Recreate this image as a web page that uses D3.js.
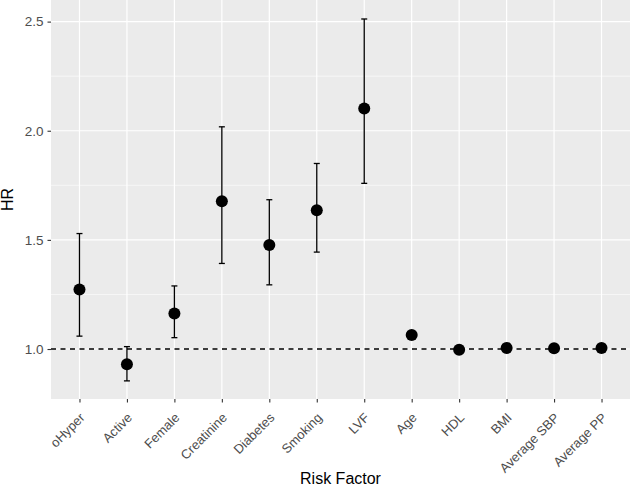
<!DOCTYPE html>
<html>
<head>
<meta charset="utf-8">
<script src="https://cdn.jsdelivr.net/npm/d3@7"></script>
<style>
  html, body { margin: 0; padding: 0; background: #fff; }
  svg { display: block; }
</style>
</head>
<body>
<svg id="chart" width="630" height="488"></svg>
<script>
const categories = ["oHyper", "Active", "Female", "Creatinine", "Diabetes", "Smoking", "LVF", "Age", "HDL", "BMI", "Average SBP", "Average PP"];
const hrValues   = [1.273, 0.930, 1.163, 1.677, 1.477, 1.636, 2.102, 1.064, 0.997, 1.005, 1.003, 1.005];
const lowerCI    = [1.059, 0.854, 1.052, 1.392, 1.294, 1.444, 1.759, 1.055, 0.990, 0.998, 0.997, 0.999];
const upperCI    = [1.529, 1.011, 1.289, 2.018, 1.684, 1.850, 2.512, 1.073, 1.004, 1.012, 1.009, 1.011];
const yTicks     = [1.0, 1.5, 2.0, 2.5];
const yMinor     = [1.25, 1.75, 2.25];
const refLine    = 1.0;

const data = categories.map((c, i) => ({ cat: c, hr: hrValues[i], lo: lowerCI[i], hi: upperCI[i] }));

const svg = d3.select("#chart");
const panel = { left: 51, right: 630, top: 0, bottom: 399 };

const x = d3.scalePoint().domain(categories).range([panel.left, panel.right]).padding(0.6);
const y = d3.scaleLinear().domain([0.771, 2.599]).range([panel.bottom, panel.top]);

// panel background
svg.append("rect")
  .attr("x", panel.left).attr("y", panel.top)
  .attr("width", panel.right - panel.left).attr("height", panel.bottom - panel.top)
  .attr("fill", "#EBEBEB");

// minor grid
svg.append("g").selectAll("line").data(yMinor).join("line")
  .attr("x1", panel.left).attr("x2", panel.right)
  .attr("y1", d => y(d)).attr("y2", d => y(d))
  .attr("stroke", "#fff").attr("stroke-width", 0.6);

// major grid
svg.append("g").selectAll("line").data(yTicks).join("line")
  .attr("x1", panel.left).attr("x2", panel.right)
  .attr("y1", d => y(d)).attr("y2", d => y(d))
  .attr("stroke", "#fff").attr("stroke-width", 1.2);
svg.append("g").selectAll("line").data(categories).join("line")
  .attr("x1", d => x(d)).attr("x2", d => x(d))
  .attr("y1", panel.top).attr("y2", panel.bottom)
  .attr("stroke", "#fff").attr("stroke-width", 1.2);

// y axis
const yAxis = svg.append("g")
  .attr("transform", `translate(${panel.left},0)`)
  .call(d3.axisLeft(y).tickValues(yTicks).tickFormat(d3.format(".1f")).tickSize(3.5).tickPadding(4));
yAxis.select(".domain").remove();
yAxis.selectAll(".tick line").attr("stroke", "#333").attr("stroke-width", 1.1);
yAxis.selectAll(".tick text")
  .attr("fill", "#4D4D4D")
  .style("font-family", "'Liberation Sans', Arial, sans-serif")
  .style("font-size", "13.5px");

// x axis
const xAxis = svg.append("g")
  .attr("transform", `translate(0,${panel.bottom})`)
  .call(d3.axisBottom(x).tickSize(3.5).tickPadding(4));
xAxis.select(".domain").remove();
xAxis.selectAll(".tick line").attr("stroke", "#333").attr("stroke-width", 1.1);
xAxis.selectAll(".tick text")
  .attr("fill", "#4D4D4D")
  .style("font-family", "'Liberation Sans', Arial, sans-serif")
  .style("font-size", "13px")
  .attr("text-anchor", "end")
  .attr("dy", null)
  .attr("y", 0)
  .attr("transform", "translate(5.5,19.5) rotate(-45)");

// error bars
const eb = svg.append("g").attr("stroke", "#000").attr("stroke-width", 1.3);
eb.selectAll("line.v").data(data).join("line").attr("class", "v")
  .attr("x1", d => x(d.cat)).attr("x2", d => x(d.cat))
  .attr("y1", d => y(d.lo)).attr("y2", d => y(d.hi));
eb.selectAll("line.t").data(data).join("line").attr("class", "t")
  .attr("x1", d => x(d.cat) - 3).attr("x2", d => x(d.cat) + 3)
  .attr("y1", d => y(d.hi)).attr("y2", d => y(d.hi));
eb.selectAll("line.b").data(data).join("line").attr("class", "b")
  .attr("x1", d => x(d.cat) - 3).attr("x2", d => x(d.cat) + 3)
  .attr("y1", d => y(d.lo)).attr("y2", d => y(d.lo));

// reference line
svg.append("line")
  .attr("x1", panel.left).attr("x2", panel.right)
  .attr("y1", y(refLine)).attr("y2", y(refLine))
  .attr("stroke", "#000").attr("stroke-width", 1.3)
  .attr("stroke-dasharray", "5,4.5");

// points
svg.append("g").selectAll("circle").data(data).join("circle")
  .attr("cx", d => x(d.cat)).attr("cy", d => y(d.hr))
  .attr("r", 6).attr("fill", "#000");

// axis titles
svg.append("text")
  .attr("x", (panel.left + panel.right) / 2).attr("y", 484)
  .attr("text-anchor", "middle")
  .style("font-family", "'Liberation Sans', Arial, sans-serif")
  .style("font-size", "16px").attr("fill", "#000")
  .text("Risk Factor");
svg.append("text")
  .attr("transform", `translate(13,${(panel.top + panel.bottom) / 2}) rotate(-90)`)
  .attr("text-anchor", "middle")
  .style("font-family", "'Liberation Sans', Arial, sans-serif")
  .style("font-size", "16px").attr("fill", "#000")
  .text("HR");
</script>
</body>
</html>
